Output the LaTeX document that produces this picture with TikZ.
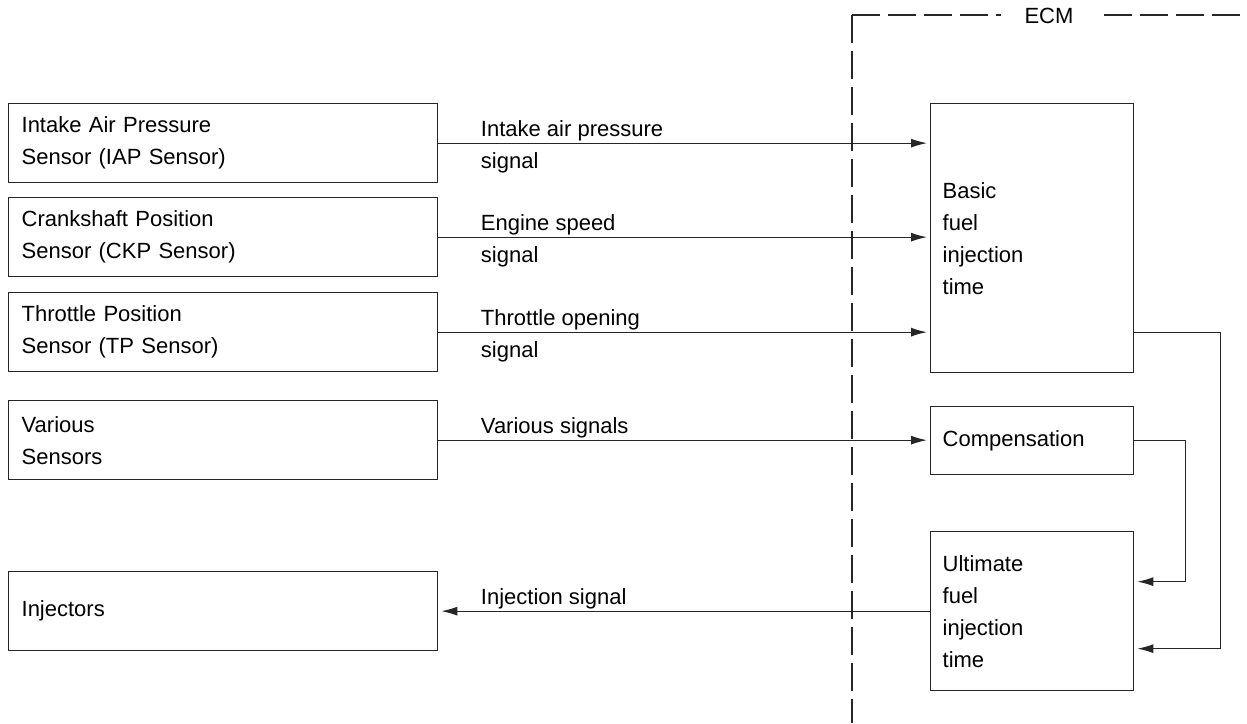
\documentclass[tikz,border=0pt]{standalone}
\usepackage{fontspec}
\setmainfont{Liberation Sans}
\usetikzlibrary{arrows.meta,calc}

\begin{document}
\begin{tikzpicture}[
  x=0.5pt,
  y=-0.5pt,
  >=Latex,
  font=\fontsize{11pt}{16pt}\selectfont,
  line/.style={draw=black!85,line width=0.65pt},
  arrow/.style={line,-{Latex[length=8pt,width=4.5pt]},shorten >=1.5pt},
  sensorbox/.style={line,anchor=north west,align=left,text width=201.5pt,inner xsep=6.5pt,minimum height=39.5pt},
  ecmbox/.style={line,anchor=north west,align=left,text width=89.5pt,inner xsep=6pt},
  siglabel/.style={anchor=north west,align=left,inner sep=0pt,xshift=21pt,yshift=11.5pt},
  ecmline/.style={draw=black!85,line width=0.55pt,dash pattern=on 14pt off 4pt}
]
\useasboundingbox (0,0) rectangle (1247,723);

% ECM border
\coordinate (ecmcorner) at (852,15);
\coordinate (ecmbottom) at (852,723);
\coordinate (ecmright) at (1247,15);
\draw[ecmline] (ecmcorner) -- (ecmbottom);
\draw[ecmline] (ecmcorner) -- (ecmright);
\node[fill=white,inner xsep=12pt,inner ysep=2pt] (ecm) at (1049,16) {ECM};

% Sensors and injectors
\node[sensorbox] (iap) at (8,103) {Intake Air Pressure\\Sensor (IAP Sensor)};
\node[sensorbox] (ckp) at (8,197) {Crankshaft Position\\Sensor (CKP Sensor)};
\node[sensorbox] (tp) at (8,292) {Throttle Position\\Sensor (TP Sensor)};
\node[sensorbox] (various) at (8,400) {Various\\Sensors};
\node[sensorbox] (inj) at (8,571) {Injectors};

% ECM blocks
\node[ecmbox,minimum height=134.5pt] (basic) at (930,103) {Basic\\fuel\\injection\\time};
\node[ecmbox,minimum height=34pt] (comp) at (930,406) {Compensation};
\node[ecmbox,minimum height=79.5pt] (ult) at (930,531) {Ultimate\\fuel\\injection\\time};

% Signals into the ECM
\draw[arrow] (iap.east) -- (iap.east -| basic.west)
  node[siglabel,pos=0] {Intake air pressure\\signal};
\draw[arrow] (ckp.east) -- (ckp.east -| basic.west)
  node[siglabel,pos=0] {Engine speed\\signal};
\draw[arrow] (tp.east) -- (tp.east -| basic.west)
  node[siglabel,pos=0] {Throttle opening\\signal};
\draw[arrow] (various.east) -- (various.east -| comp.west)
  node[siglabel,pos=0] {Various signals};

% Inside the ECM
\draw[arrow] (basic.east |- tp.east) -- ++(86,0) |- ($(ult.east)+(0,37.5)$);
\draw[arrow] (comp.east) -- ++(51,0) |- ($(ult.east)+(0,-29.5)$);

% Output
\draw[arrow] (ult.west) -- (ult.west -| inj.east)
  node[siglabel,pos=1] {Injection signal};

\end{tikzpicture}
\end{document}
